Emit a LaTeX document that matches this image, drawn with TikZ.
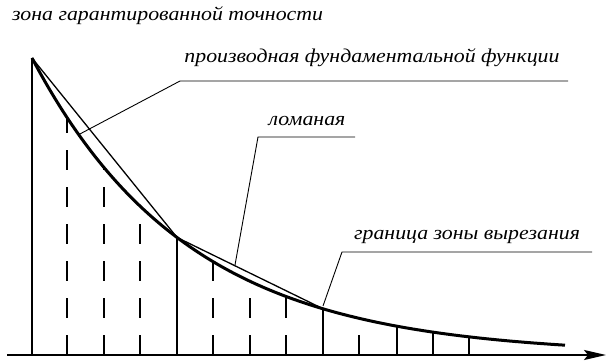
\documentclass[tikz,border=0pt]{standalone}
\usepackage{fontspec}
\setmainfont{Liberation Serif}
\newfontfamily\labelfont{Liberation Serif}[FakeStretch=1.12]
\usetikzlibrary{arrows.meta,positioning}
\tikzset{
  labeltext/.style={font=\labelfont\itshape\fontsize{19.5}{21}\selectfont,inner sep=0pt},
  leader/.style={line width=0.9pt},
  ordinate/.style={line width=1.6pt},
  dashordinate/.style={ordinate,dash pattern=on 20pt off 17pt},
  curve/.style={line width=3pt},
  chord/.style={line width=1.3pt}
}

\begin{document}
\begin{tikzpicture}[x=1pt,y=-1pt,>={Stealth[length=22pt,width=10pt,inset=4pt]},
  declare function={f(\x)=355-297*exp(-0.0064*(\x-32));}]
\useasboundingbox (0,0) rectangle (606,363);
% axis
\coordinate (o) at (7,355);
\coordinate (xend) at (606,355);
\draw[->,line width=1.8pt] (o) -- (xend);
% ordinates
\foreach \xx in {32,177,323,397,433,469}
  \draw[ordinate] (\xx,355) -- (\xx,{f(\xx)});
\foreach \xx in {67,104,140,213,250,286,359}
  \draw[dashordinate] (\xx,355) -- (\xx,{f(\xx)});
% curve and chords
\draw[curve] plot[domain=32:565,samples=120] (\x,{f(\x)});
\coordinate (k0) at (32,{f(32)});
\coordinate (k1) at (177,{f(177)});
\coordinate (k2) at (323,{f(323)});
\draw[chord] (k0) -- (k1) -- (k2);
% labels
\node[labeltext,anchor=base west] (zone) at (12,21) {зона гарантированной точности};
\coordinate (d0) at (78,135);
\coordinate (d1) at (180,81);
\coordinate (d2) at (568,81);
\draw[leader] (d0) -- (d1) -- (d2);
\node[labeltext,anchor=base] (deriv) at (372,63) {производная фундаментальной функции};
\coordinate (l0) at (235,265);
\coordinate (l1) at (258,137);
\coordinate (l2) at (355,137);
\draw[leader] (l0) -- (l1) -- (l2);
\node[labeltext,anchor=base] (poly) at (307,126) {ломаная};
\coordinate (g0) at (323,306);
\coordinate (g1) at (342,252);
\coordinate (g2) at (592,252);
\draw[leader] (g0) -- (g1) -- (g2);
\node[labeltext,anchor=base] (border) at (467,240) {граница зоны вырезания};
\end{tikzpicture}
\end{document}
